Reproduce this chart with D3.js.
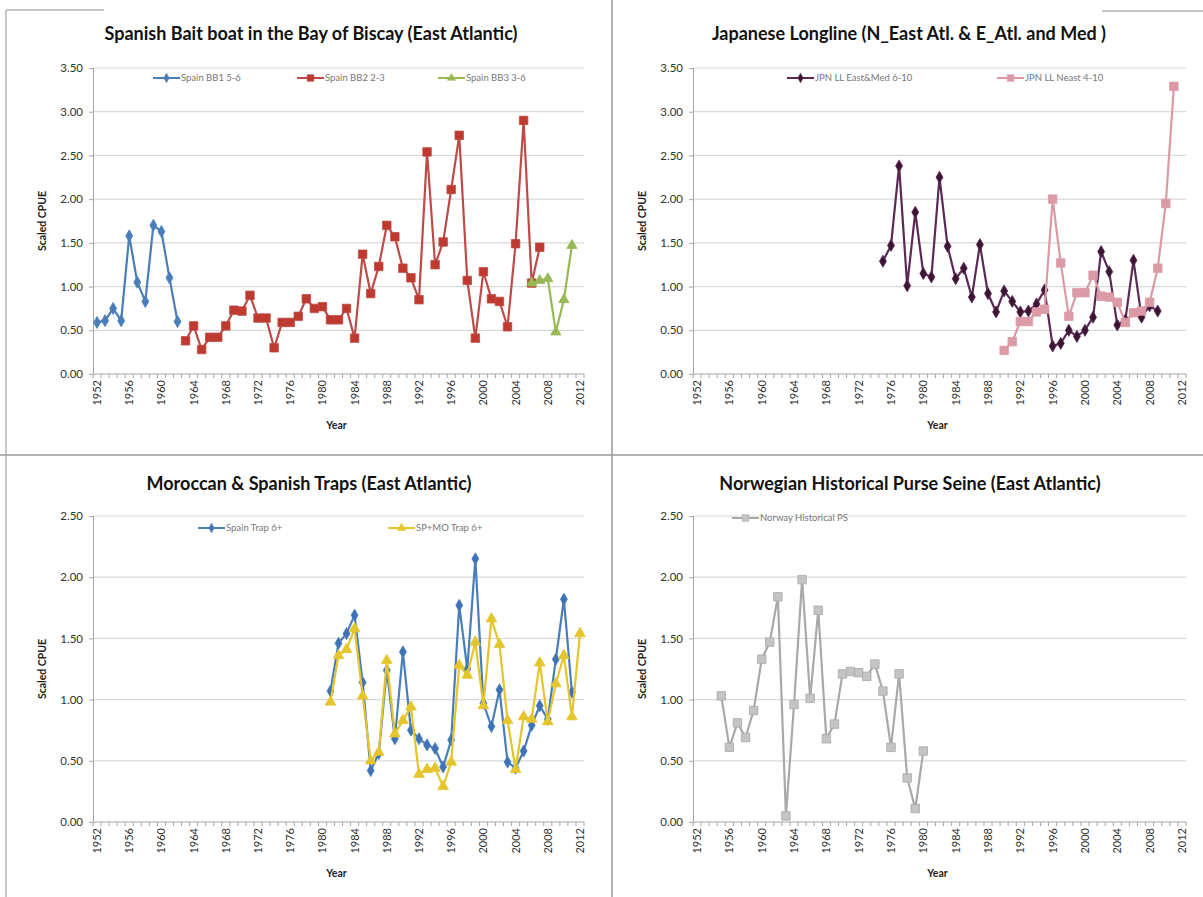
<!DOCTYPE html>
<html><head><meta charset="utf-8">
<script src="https://cdn.jsdelivr.net/npm/d3@7"></script>
<style>body{margin:0;background:#fff}svg{display:block}text{font-family:Lato,"Open Sans",sans-serif}</style>
</head><body>
<svg id="c" width="1203" height="897"></svg>
<script>
// ---- Data ----
const categories = [1952,1953,1954,1955,1956,1957,1958,1959,1960,1961,1962,1963,1964,1965,1966,1967,1968,1969,1970,1971,1972,1973,1974,1975,1976,1977,1978,1979,1980,1981,1982,1983,1984,1985,1986,1987,1988,1989,1990,1991,1992,1993,1994,1995,1996,1997,1998,1999,2000,2001,2002,2003,2004,2005,2006,2007,2008,2009,2010,2011,2012];
const tickLabels = ["1952","1956","1960","1964","1968","1972","1976","1980","1984","1988","1992","1996","2000","2004","2008","2012"];
const yTicksTop = [0,0.5,1,1.5,2,2.5,3,3.5];
const yTicksBottom = [0,0.5,1,1.5,2,2.5];

const bb1Years = [1952,1953,1954,1955,1956,1957,1958,1959,1960,1961,1962];
const bb1Values = [0.59,0.61,0.75,0.61,1.58,1.05,0.83,1.70,1.63,1.10,0.60];
const bb2Years = [1963,1964,1965,1966,1967,1968,1969,1970,1971,1972,1973,1974,1975,1976,1977,1978,1979,1980,1981,1982,1983,1984,1985,1986,1987,1988,1989,1990,1991,1992,1993,1994,1995,1996,1997,1998,1999,2000,2001,2002,2003,2004,2005,2006,2007];
const bb2Values = [0.38,0.55,0.28,0.42,0.42,0.55,0.73,0.72,0.90,0.64,0.64,0.30,0.59,0.59,0.66,0.86,0.75,0.77,0.62,0.62,0.75,0.41,1.37,0.92,1.23,1.70,1.57,1.21,1.10,0.85,2.54,1.25,1.51,2.11,2.73,1.07,0.41,1.17,0.86,0.83,0.54,1.49,2.90,1.04,1.45];
const bb3Years = [2006,2007,2008,2009,2010,2011];
const bb3Values = [1.04,1.07,1.09,0.48,0.85,1.47];

const jpnEYears = [1975,1976,1977,1978,1979,1980,1981,1982,1983,1984,1985,1986,1987,1988,1989,1990,1991,1992,1993,1994,1995,1996,1997,1998,1999,2000,2001,2002,2003,2004,2005,2006,2007,2008,2009];
const jpnEValues = [1.29,1.47,2.38,1.01,1.85,1.15,1.11,2.25,1.46,1.09,1.21,0.88,1.48,0.92,0.71,0.95,0.83,0.71,0.72,0.80,0.96,0.32,0.35,0.50,0.43,0.50,0.65,1.40,1.17,0.56,0.62,1.30,0.65,0.78,0.72];
const jpnNYears = [1990,1991,1992,1993,1994,1995,1996,1997,1998,1999,2000,2001,2002,2003,2004,2005,2006,2007,2008,2009,2010,2011];
const jpnNValues = [0.27,0.37,0.60,0.60,0.71,0.74,2.00,1.27,0.66,0.93,0.93,1.13,0.89,0.88,0.82,0.59,0.70,0.72,0.82,1.21,1.95,3.29];

const trapYears = [1981,1982,1983,1984,1985,1986,1987,1988,1989,1990,1991,1992,1993,1994,1995,1996,1997,1998,1999,2000,2001,2002,2003,2004,2005,2006,2007,2008,2009,2010,2011];
const trapValues = [1.07,1.46,1.54,1.69,1.14,0.42,0.56,1.24,0.68,1.39,0.75,0.68,0.63,0.60,0.45,0.67,1.77,1.25,2.15,0.97,0.78,1.08,0.49,0.44,0.58,0.79,0.95,0.84,1.33,1.82,1.06];
const spmoYears = [1981,1982,1983,1984,1985,1986,1987,1988,1989,1990,1991,1992,1993,1994,1995,1996,1997,1998,1999,2000,2001,2002,2003,2004,2005,2006,2007,2008,2009,2010,2011,2012];
const spmoValues = [0.98,1.36,1.41,1.58,1.03,0.50,0.57,1.32,0.72,0.83,0.94,0.39,0.43,0.44,0.29,0.49,1.28,1.20,1.47,0.95,1.66,1.45,0.83,0.43,0.86,0.84,1.30,0.82,1.13,1.36,0.86,1.54];

const norYears = [1955,1956,1957,1958,1959,1960,1961,1962,1963,1964,1965,1966,1967,1968,1969,1970,1971,1972,1973,1974,1975,1976,1977,1978,1979,1980];
const norValues = [1.03,0.61,0.81,0.69,0.91,1.33,1.47,1.84,0.05,0.96,1.98,1.01,1.73,0.68,0.80,1.21,1.23,1.22,1.19,1.29,1.07,0.61,1.21,0.36,0.11,0.58];

// ---- Layout / styles ----
const panels = [
  {x0:93,x1:584,yT:68,yB:374,max:3.5,ticks:yTicksTop,title:"Spanish Bait boat in the Bay of Biscay (East Atlantic)",tx:311,ty:40,ly:78,
   series:[
    {name:"Spain BB1 5-6",years:bb1Years,values:bb1Values,color:"#4a7ebb",mfill:"#4a7ebb",sym:d3.symbolDiamond,size:42,lx:153},
    {name:"Spain BB2 2-3",years:bb2Years,values:bb2Values,color:"#be4b48",mfill:"#c0392f",sym:d3.symbolSquare,size:72,lx:297},
    {name:"Spain BB3 3-6",years:bb3Years,values:bb3Values,color:"#98b954",mfill:"#98b954",sym:d3.symbolTriangle,size:46,lx:438}]},
  {x0:693,x1:1186,yT:68,yB:374,max:3.5,ticks:yTicksTop,title:"Japanese Longline (N_East Atl. & E_Atl. and Med )",tx:909,ty:40,ly:78,
   series:[
    {name:"JPN LL East&Med 6-10",years:jpnEYears,values:jpnEValues,color:"#5a2a55",mfill:"#3d1533",sym:d3.symbolDiamond,size:42,lx:787},
    {name:"JPN LL Neast 4-10",years:jpnNYears,values:jpnNValues,color:"#d99aa6",mfill:"#dc9aa7",sym:d3.symbolSquare,size:72,lx:997}]},
  {x0:93,x1:584,yT:516,yB:822,max:2.5,ticks:yTicksBottom,title:"Moroccan & Spanish Traps (East Atlantic)",tx:309,ty:490,ly:528,
   series:[
    {name:"Spain Trap 6+",years:trapYears,values:trapValues,color:"#4a7ebb",mfill:"#3f72b5",sym:d3.symbolDiamond,size:42,lx:198},
    {name:"SP+MO Trap 6+",years:spmoYears,values:spmoValues,color:"#e4c52c",mfill:"#e4c52c",sym:d3.symbolTriangle,size:50,lx:388}]},
  {x0:693,x1:1186,yT:516,yB:822,max:2.5,ticks:yTicksBottom,title:"Norwegian Historical Purse Seine (East Atlantic)",tx:910,ty:490,ly:518,
   series:[
    {name:"Norway Historical PS",years:norYears,values:norValues,color:"#a9a9a9",mfill:"#c4c4c4",sym:d3.symbolSquare,size:72,lx:732}]}
];

const svg = d3.select("#c");

// frame lines
const frame = svg.append("g").attr("stroke","#b5b5b5").attr("stroke-width",1.5);
frame.append("line").attr("x1",6).attr("y1",10).attr("x2",104).attr("y2",10);
frame.append("line").attr("x1",6).attr("y1",10).attr("x2",6).attr("y2",897);
frame.append("line").attr("x1",1102).attr("y1",11).attr("x2",1203).attr("y2",11);
frame.append("line").attr("x1",612).attr("y1",0).attr("x2",612).attr("y2",897).attr("stroke","#9a9a9a");
frame.append("line").attr("x1",0).attr("y1",455).attr("x2",1203).attr("y2",455).attr("stroke","#9a9a9a");

panels.forEach(p => {
  const g = svg.append("g");
  const x = d3.scalePoint().domain(categories).range([p.x0,p.x1]).padding(0.5);
  const band = d3.scaleBand().domain(categories).range([p.x0,p.x1]);
  const y = d3.scaleLinear().domain([0,p.max]).range([p.yB,p.yT]);

  // gridlines
  g.append("g").selectAll("line").data(p.ticks.filter(t=>t>0)).join("line")
    .attr("x1",p.x0).attr("x2",p.x1).attr("y1",d=>y(d)).attr("y2",d=>y(d))
    .attr("stroke","#d9d9d9").attr("stroke-width",1.2);

  // y axis
  const ya = g.append("g").attr("transform",`translate(${p.x0},0)`)
    .call(d3.axisLeft(y).tickValues(p.ticks).tickFormat(d3.format(".2f")).tickSize(4));
  ya.select(".domain").attr("stroke","#a6a6a6");
  ya.selectAll(".tick line").attr("stroke","#a6a6a6");
  ya.selectAll("text").attr("font-size",11.5).attr("fill","#333").attr("dx",-3);

  // x axis (ticks between categories)
  const xa = g.append("g").attr("transform",`translate(0,${p.yB})`);
  xa.append("line").attr("x1",p.x0).attr("x2",p.x1).attr("stroke","#a6a6a6");
  const bounds = categories.map(c=>band(c)).concat([p.x1]);
  xa.selectAll("line.t").data(bounds).join("line").attr("class","t")
    .attr("x1",d=>d).attr("x2",d=>d).attr("y1",0).attr("y2",4).attr("stroke","#a6a6a6");
  xa.selectAll("text").data(tickLabels).join("text")
    .attr("transform",d=>`translate(${x(+d)+4},6) rotate(-90)`)
    .attr("text-anchor","end").attr("font-size",11).attr("fill","#333").text(d=>d);

  // axis titles
  g.append("text")
    .attr("text-anchor","middle").attr("font-size",10.5).attr("font-weight","bold").attr("fill","#222")
    .attr("transform",`translate(${p.x0-47},${(p.yT+p.yB)/2}) rotate(-90)`).text("Scaled CPUE");
  g.append("text").attr("x",(p.x0+p.x1)/2-2).attr("y",p.yB+55).attr("text-anchor","middle")
    .attr("font-size",10.5).attr("font-weight","bold").attr("fill","#222").text("Year");

  // title
  g.append("text").attr("x",p.tx).attr("y",p.ty).attr("text-anchor","middle")
    .attr("font-size",18).attr("font-weight","bold").attr("fill","#111").text(p.title);

  // series
  p.series.forEach(s => {
    const pts = s.years.map((yr,i)=>[yr,s.values[i]]);
    g.append("path").datum(pts)
      .attr("d",d3.line().x(d=>x(d[0])).y(d=>y(d[1])))
      .attr("fill","none").attr("stroke",s.color).attr("stroke-width",2.2);
    g.append("g").selectAll("path").data(pts).join("path")
      .attr("d",d3.symbol().type(s.sym).size(s.size))
      .attr("transform",d=>`translate(${x(d[0])},${y(d[1])})`)
      .attr("fill",s.mfill).attr("stroke",s.color).attr("stroke-width",0.8);
    // legend
    const lg = g.append("g").attr("transform",`translate(${s.lx},${p.ly})`);
    lg.append("line").attr("x1",0).attr("x2",27).attr("stroke",s.color).attr("stroke-width",2);
    lg.append("path").attr("d",d3.symbol().type(s.sym).size(s.size*0.6)).attr("transform","translate(13.5,0)")
      .attr("fill",s.mfill).attr("stroke",s.color).attr("stroke-width",0.6);
    lg.append("text").attr("x",28).attr("y",3).attr("font-size",9.5).attr("fill","#777").text(s.name);
  });
});
</script>
</body></html>
